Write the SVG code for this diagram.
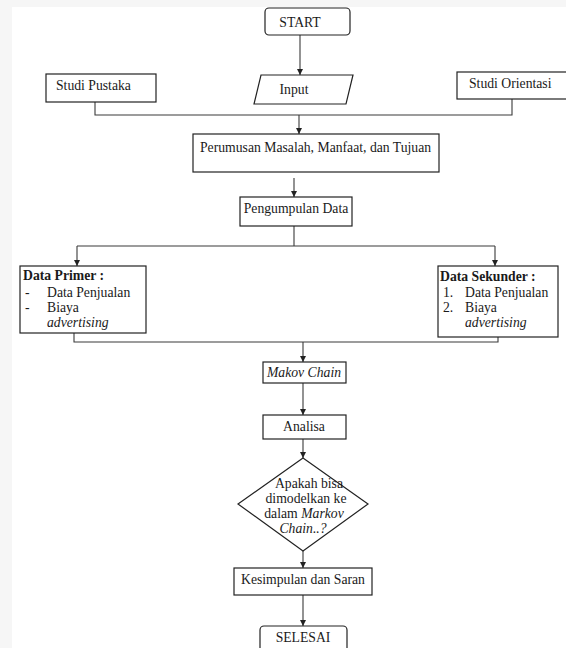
<svg xmlns="http://www.w3.org/2000/svg" width="566" height="648" viewBox="0 0 566 648">
<style>
.box{fill:#fff;stroke:#222;stroke-width:1.2}
.ln{fill:none;stroke:#3a3a3a;stroke-width:1.1}
.t{font-family:"Liberation Serif","Times New Roman",serif;font-size:13.7px;fill:#1a1a1a}
.c{text-anchor:middle}
.b{font-weight:bold}
.i{font-style:italic}
</style>
<defs>
<marker id="ah" markerUnits="userSpaceOnUse" markerWidth="7" markerHeight="7" refX="6" refY="3" orient="auto">
<path d="M0,0 L6,3 L0,6 z" fill="#222"/>
</marker>
</defs>
<rect x="0" y="0" width="566" height="648" fill="#f6f6f6"/>
<rect x="12" y="7" width="554" height="641" fill="#fff"/>
<g id="connectors">
<line class="ln" x1="300" y1="35" x2="300" y2="75" marker-end="url(#ah)"/>
<polyline class="ln" points="95,102 95,115 512,115 512,99"/>
<line class="ln" x1="299" y1="115" x2="299" y2="134" marker-end="url(#ah)"/>
<line class="ln" x1="294" y1="178" x2="294" y2="197" marker-end="url(#ah)"/>
<line class="ln" x1="294" y1="226" x2="294" y2="246"/>
<line class="ln" x1="77" y1="246" x2="495" y2="246"/>
<line class="ln" x1="77" y1="246" x2="77" y2="266" marker-end="url(#ah)"/>
<line class="ln" x1="495" y1="246" x2="495" y2="266" marker-end="url(#ah)"/>
<polyline class="ln" points="74,333 74,342 498,342 498,337"/>
<line class="ln" x1="303" y1="342" x2="303" y2="362" marker-end="url(#ah)"/>
<line class="ln" x1="303" y1="383" x2="303" y2="415" marker-end="url(#ah)"/>
<line class="ln" x1="303" y1="439" x2="303" y2="458" marker-end="url(#ah)"/>
<line class="ln" x1="303" y1="551" x2="303" y2="568" marker-end="url(#ah)"/>
<line class="ln" x1="303" y1="595" x2="303" y2="626" marker-end="url(#ah)"/>
</g>
<g id="start">
<rect class="box" x="265" y="8" width="85" height="27" rx="4"/>
<text class="t c" x="300" y="27">START</text>
</g>
<g id="studi-pustaka">
<rect class="box" x="46" y="74" width="110" height="28"/>
<text class="t" x="56" y="90">Studi Pustaka</text>
</g>
<g id="input">
<polygon class="box" points="261,75 353,75 346,104 254,104"/>
<text class="t c" x="294" y="94">Input</text>
</g>
<g id="studi-orientasi">
<rect class="box" x="457" y="72" width="112" height="27"/>
<text class="t" x="469" y="88">Studi Orientasi</text>
</g>
<g id="perumusan">
<rect class="box" x="193" y="134" width="246" height="38"/>
<text class="t" x="200" y="152">Perumusan Masalah, Manfaat, dan Tujuan</text>
</g>
<g id="pengumpulan">
<rect class="box" x="240" y="197" width="112" height="29"/>
<text class="t c" x="296" y="213">Pengumpulan Data</text>
</g>
<g id="data-primer">
<rect class="box" x="20" y="266" width="126" height="67"/>
<text class="t b" x="23" y="280">Data Primer :</text>
<text class="t" x="25" y="297">-</text>
<text class="t" x="47" y="297">Data Penjualan</text>
<text class="t" x="25" y="312">-</text>
<text class="t" x="47" y="312">Biaya</text>
<text class="t i" x="47" y="327">advertising</text>
</g>
<g id="data-sekunder">
<rect class="box" x="438" y="266" width="120" height="71"/>
<text class="t b" x="440" y="281">Data Sekunder :</text>
<text class="t" x="443" y="297">1.</text>
<text class="t" x="465" y="297">Data Penjualan</text>
<text class="t" x="443" y="312">2.</text>
<text class="t" x="465" y="312">Biaya</text>
<text class="t i" x="465" y="327">advertising</text>
</g>
<g id="makov">
<rect class="box" x="263" y="362" width="83" height="21"/>
<text class="t c i" x="304" y="377">Makov Chain</text>
</g>
<g id="analisa">
<rect class="box" x="263" y="415" width="83" height="24"/>
<text class="t c" x="304" y="431">Analisa</text>
</g>
<g id="decision">
<polygon class="box" points="303,458 368,504 303,551 238,504"/>
<text class="t c" x="309" y="488">Apakah bisa</text>
<text class="t c" x="306" y="503">dimodelkan ke</text>
<text class="t c" x="304" y="518">dalam <tspan class="i">Markov</tspan></text>
<text class="t c i" x="303" y="533">Chain..?</text>
</g>
<g id="kesimpulan">
<rect class="box" x="234" y="568" width="138" height="27"/>
<text class="t c" x="303" y="584">Kesimpulan dan Saran</text>
</g>
<g id="selesai">
<rect class="box" x="260" y="626" width="87" height="30" rx="4"/>
<text class="t c" x="303" y="642">SELESAI</text>
</g>
</svg>
